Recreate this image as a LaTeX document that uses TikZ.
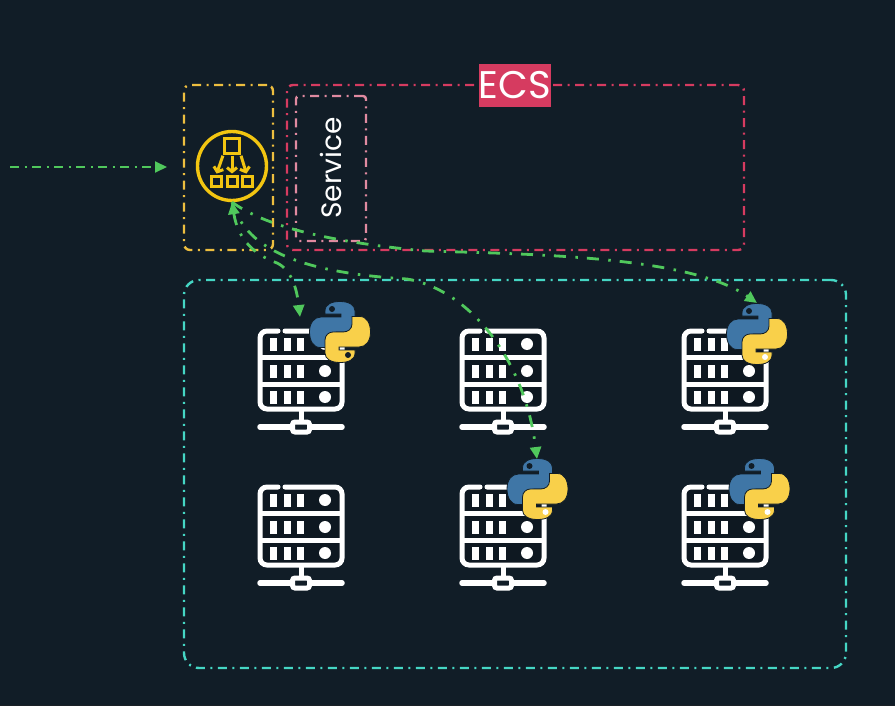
\documentclass[tikz,border=0pt]{standalone}
\usepackage{fontspec}
\setmainfont{Poppins}
\usetikzlibrary{arrows.meta}
\definecolor{bgdark}{HTML}{111D27}
\definecolor{rowdark}{HTML}{0E1821}
\definecolor{stripdark}{HTML}{1A2026}
\definecolor{lbyellow}{HTML}{F2C511}
\definecolor{boxyellow}{HTML}{EDBE3F}
\definecolor{ecsred}{HTML}{D63B60}
\definecolor{svcpink}{HTML}{E08AA0}
\definecolor{vpcteal}{HTML}{45D6C4}
\definecolor{flowgreen}{HTML}{50C85C}
\definecolor{pyblue}{HTML}{3F76A6}
\definecolor{pyyellow}{HTML}{F9D04A}
\def \SnakePath {(-15,-18) -- (-15,-21) .. controls (-15,-28) and (-8,-30.5) .. (0,-30.5) .. controls (9,-30.5) and (15,-27) .. (15,-21) -- (15,-8) .. controls (15,-3) and (11,0) .. (7,0) -- (-3,0) .. controls (-8,0) and (-12,3) .. (-12,8) -- (-12,15.5) -- (-20,15.5) .. controls (-27,15.5) and (-30.5,8) .. (-30.5,0) .. controls (-30.5,-9) and (-26,-15) .. (-19,-15) -- (1,-15) -- (1,-18) -- cycle}
\tikzstyle{dashbox}=[
  draw,
  rectangle,
  rounded corners=6,
  line width=2.4,
  dash pattern=on 9 off 5.5 on 2 off 5.5
]
\tikzstyle{flow}=[
  draw=flowgreen,
  line width=2.8,
  dash pattern=on 12 off 9.5 on 2.5 off 9,
  -{Triangle[length=12,width=11]}
]
\tikzstyle{lbsquare}=[
  draw=lbyellow,
  rectangle,
  line width=3,
  inner sep=0
]
\tikzstyle{lbarrow}=[
  draw=lbyellow,
  line width=3,
  shorten >=2,
  shorten <=1,
  -{Straight Barb[length=4,width=10]}
]
\tikzset{
  serverpic/.pic={
    \fill[rowdark] (-41,-48) rectangle (41,30);
    \draw[white, line width=5, rounded corners=7, line cap=round] (-23,-48) -- (-41,-48) -- (-41,30) -- (41,30) -- (41,-48) -- (-16,-48);
    \draw[white, line width=5] (-41,-22) -- (41,-22) (-41,5) -- (41,5);
    \foreach \y in {-35,-8,18}{
      \foreach \x in {-28,-14,-1}{
        \fill[white] (\x-3.5,\y-6.5) rectangle (\x+3.5,\y+6.5);
      }
      \fill[white] (24,\y) circle (6);
    }
    \draw[white, line width=5] (0,30) -- (0,42);
    \draw[white, line width=5.5, line cap=round] (-41,48) -- (41,48);
    \draw[white, fill=bgdark, line width=5, rounded corners=2.5] (-8.5,43) rectangle (8.5,53);
  },
  pysnake/.pic={
    \path[fill=pyblue, draw=bgdark, line width=0.8] \SnakePath;
    \path[rotate=180, fill=pyyellow, draw=bgdark, line width=0.8] \SnakePath;
    \fill[bgdark] (-8,-23) circle (3);
    \fill[pic actions] (8,23) circle (3);
  }
}

\begin{document}
\begin{tikzpicture}[x=1pt,y=-1pt]
  \useasboundingbox (0,0) rectangle (895,706);
  \fill[bgdark] (0,0) rectangle (895,706);
  \fill[stripdark] (0,704.5) rectangle (895,706);

  \node[dashbox, draw=vpcteal, rounded corners=15, minimum width=662, minimum height=388] (vpc) at (515,474) {};
  \node[dashbox, draw=ecsred, minimum width=457, minimum height=165] (ecs) at (515.5,167.5) {};
  \node[dashbox, draw=svcpink, rounded corners=3, minimum width=70, minimum height=145] (svc) at (331,168.5) {};
  \node[dashbox, draw=boxyellow, minimum width=89, minimum height=165] (lbbox) at (228.5,167.5) {};

  \node[fill=ecsred, text=white, font=\fontsize{38.5}{38.5}\selectfont, inner sep=0, minimum width=72, minimum height=43] (ecslabel) at (515,85.5) {ECS};
  \node[text=white, font=\fontsize{28}{28}\selectfont, rotate=90, inner sep=0] (svclabel) at (331,168) {Service};

  \node[draw=lbyellow, circle, line width=3.4, minimum size=69, inner sep=0] (lb) at (232,166) {};
  \node[lbsquare, minimum size=14.5] (lbtop) at (232,146) {};
  \foreach \name/\x/\from in {lba/216/south west,lbb/232/south,lbc/247/south east}{
    \node[lbsquare, minimum size=10] (\name) at (\x,182) {};
    \draw[lbarrow] (lbtop.\from) -- (\name.north);
  }

  \foreach \name/\x/\y in {srva/301/379,srvb/503/379,srvc/725/379,srvd/301/535,srve/503/535,srvf/725/535}{
    \pic (\name) at (\x,\y) {serverpic};
  }

  \pic[fill=bgdark] (pya) at (340,332) {pysnake};
  \pic[fill=white] (pyb) at (757,334) {pysnake};
  \pic[fill=white] (pyc) at (537.5,489) {pysnake};
  \pic[fill=white] (pyd) at (759.5,489) {pysnake};

  \coordinate (inlet) at (10,167);
  \coordinate (inend) at (167,167);
  \coordinate (toa) at (300,317);
  \coordinate (toe) at (537,459);
  \coordinate (toc) at (757,303);
  \draw[flow, line width=2, dash pattern=on 9 off 5.5 on 2 off 5.5] (inlet) -- (inend);
  \draw[flow, {Triangle[length=12,width=11]}-{Triangle[length=12,width=11]}] (lb.south) .. controls (238,240) and (255,255) .. (277,263) .. controls (292,270) and (297,290) .. (toa);
  \draw[flow] (lb.south) .. controls (245,245) and (290,272) .. (407,279) .. controls (470,290) and (525,360) .. (toe);
  \draw[flow] (lb.south) .. controls (260,222) and (310,240) .. (425,251) .. controls (530,254) and (690,256) .. (toc);
\end{tikzpicture}
\end{document}
